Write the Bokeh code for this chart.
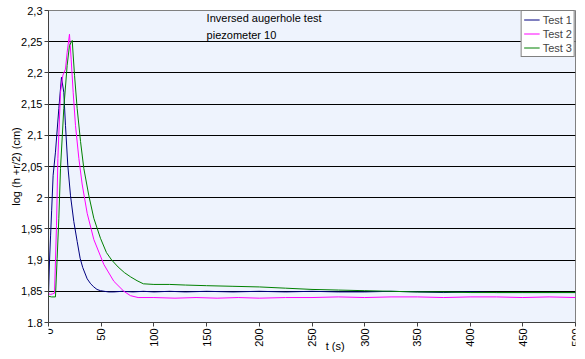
import math
from bokeh.plotting import figure
from bokeh.layouts import column
from bokeh.models import Range1d, FixedTicker, Label, Legend, LegendItem
from bokeh.embed import file_html
from bokeh.resources import INLINE

# ---------------- data ----------------
t1 = [0, 1, 2, 3, 4.4, 6.6, 9.8, 12.3, 14.5, 16.1, 18.3, 20.9, 24, 27.2, 30, 32.5,
      36.7, 40, 43, 46, 49.3, 53, 57, 62, 70, 80, 90, 100, 115, 130, 150, 175, 200,
      225, 250, 275, 300, 325, 350, 375, 400, 425, 450, 475, 500]
v1 = [1.845, 1.90, 1.94, 1.98, 2.036, 2.073, 2.143, 2.193, 2.169, 2.116, 2.052, 2.003,
      1.962, 1.930, 1.903, 1.888, 1.870, 1.862, 1.857, 1.853, 1.851, 1.850, 1.849,
      1.849, 1.850, 1.849, 1.850, 1.849, 1.850, 1.849, 1.850, 1.849, 1.850, 1.849,
      1.850, 1.849, 1.849, 1.850, 1.849, 1.848, 1.849, 1.848, 1.848, 1.848, 1.848]

t2 = [0, 2, 4, 5.7, 7.6, 8.9, 11.4, 13.6, 16.1, 17.7, 19.9, 21.5, 23.4, 25.6, 28.8,
      31.9, 36.7, 43, 52.5, 62, 71.5, 77.8, 85, 100, 120, 140, 160, 180, 200, 225,
      250, 275, 300, 325, 350, 375, 400, 425, 450, 475, 500]
v2 = [1.846, 1.845, 1.846, 1.847, 1.956, 2.063, 2.169, 2.196, 2.206, 2.233, 2.262,
      2.222, 2.169, 2.116, 2.063, 2.022, 1.975, 1.933, 1.893, 1.866, 1.850, 1.843,
      1.840, 1.840, 1.839, 1.840, 1.839, 1.840, 1.839, 1.840, 1.840, 1.841, 1.840,
      1.841, 1.841, 1.840, 1.841, 1.841, 1.840, 1.841, 1.840]

t3 = [0, 3, 6.6, 8.2, 9.8, 11.4, 14.5, 17.7, 19.9, 22.5, 24.7, 27.2, 30.4, 33.5,
      38.2, 43, 49.3, 55, 60, 66, 72, 78, 84, 90, 100, 115, 130, 150, 175, 200, 225,
      250, 275, 300, 325, 350, 375, 400, 425, 450, 475, 500]
v3 = [1.842, 1.841, 1.841, 1.903, 1.967, 2.047, 2.143, 2.212, 2.244, 2.252, 2.196,
      2.143, 2.090, 2.047, 2.004, 1.967, 1.935, 1.912, 1.900, 1.889, 1.880, 1.873,
      1.867, 1.862, 1.861, 1.861, 1.860, 1.859, 1.858, 1.857, 1.855, 1.853, 1.852,
      1.851, 1.850, 1.849, 1.849, 1.848, 1.848, 1.848, 1.848, 1.848]

series_names = ["Test 1", "Test 2", "Test 3"]
series_colors = ["#000080", "#FF00FF", "#008000"]

y_ticks = [1.8, 1.85, 1.9, 1.95, 2.0, 2.05, 2.1, 2.15, 2.2, 2.25, 2.3]
y_tick_labels = ["1,8", "1,85", "1,9", "1,95", "2", "2,05", "2,1", "2,15", "2,2", "2,25", "2,3"]
x_ticks = [0, 50, 100, 150, 200, 250, 300, 350, 400, 450, 500]
x_tick_labels = [str(v) for v in x_ticks]
x_title = "t (s)"
x_title_pos = 272

p = figure(width=585, height=327, output_backend="svg", toolbar_location=None,
           x_range=Range1d(0, 500), y_range=Range1d(1.8, 2.3),
           min_border_left=48, min_border_right=10, min_border_top=10, min_border_bottom=5)

p.background_fill_color = "#EEF3FD"
p.border_fill_color = "white"
p.outline_line_color = "#808080"

p.xgrid.grid_line_color = None
p.ygrid.grid_line_color = "black"
p.ygrid.grid_line_width = 1

p.yaxis.ticker = FixedTicker(ticks=y_ticks)
p.yaxis.major_label_overrides = {tk: lb for tk, lb in zip(y_ticks, y_tick_labels)}
p.yaxis.axis_label = "log (h +r/2) (cm)"
p.yaxis.axis_label_standoff = -4
p.yaxis.major_label_standoff = 2
p.yaxis.major_label_text_font_size = "11px"
p.yaxis.major_label_text_color = "black"

p.xaxis.ticker = FixedTicker(ticks=x_ticks)
p.xaxis.major_label_text_font_size = "0px"
p.xaxis.major_label_standoff = 0

for ax in (p.xaxis[0], p.yaxis[0]):
    ax.axis_line_color = "#404040"
    ax.major_tick_line_color = "#404040"
    ax.major_tick_in = 0
    ax.major_tick_out = 4
    ax.minor_tick_line_color = None
    ax.axis_label_text_font_size = "11px"
    ax.axis_label_text_font_style = "normal"
    ax.axis_label_text_color = "black"

renderers = []
for (tt, vv, c) in zip([t1, t2, t3], [v1, v2, v3], series_colors):
    r = p.line(tt, vv, line_color=c, line_width=1)
    renderers.append(r)

legend = Legend(items=[LegendItem(label=n, renderers=[r]) for n, r in zip(series_names, renderers)],
                location="top_right")
legend.label_text_font_size = "11px"
legend.glyph_width = 16
legend.glyph_height = 13
legend.label_height = 13
legend.label_standoff = 3
legend.spacing = 1
legend.padding = 2
legend.margin = 0
legend.border_line_color = "black"
legend.border_line_width = 1
legend.background_fill_color = "white"
legend.background_fill_alpha = 1
p.add_layout(legend, "center")

p.add_layout(Label(x=150, y=2.297, text="Inversed augerhole test",
                   text_font_size="11px", text_baseline="top", text_color="black"))
p.add_layout(Label(x=150, y=2.2696, text="piezometer 10",
                   text_font_size="11px", text_baseline="top", text_color="black"))

# strip below the plot carrying the rotated tick labels and the axis title
p2 = figure(width=585, height=32, output_backend="svg", toolbar_location=None,
            x_range=p.x_range, y_range=Range1d(0, 1), x_axis_type=None, y_axis_type=None,
            min_border_left=48, min_border_right=10, min_border_top=0, min_border_bottom=0)
p2.outline_line_color = "white"
p2.text(x=[x_title_pos], y=[0.41], text=[x_title], text_font_size="11px",
        text_align="center", text_baseline="middle")
for xv, lb in zip(x_ticks, x_tick_labels):
    p2.text(x=[xv], y=[0.97], text=[lb], angle=math.pi / 2, text_font_size="11px",
            text_align="right", text_baseline="middle")

layout = column(p, p2, spacing=0)
open("out.html", "w").write(file_html(layout, INLINE))
